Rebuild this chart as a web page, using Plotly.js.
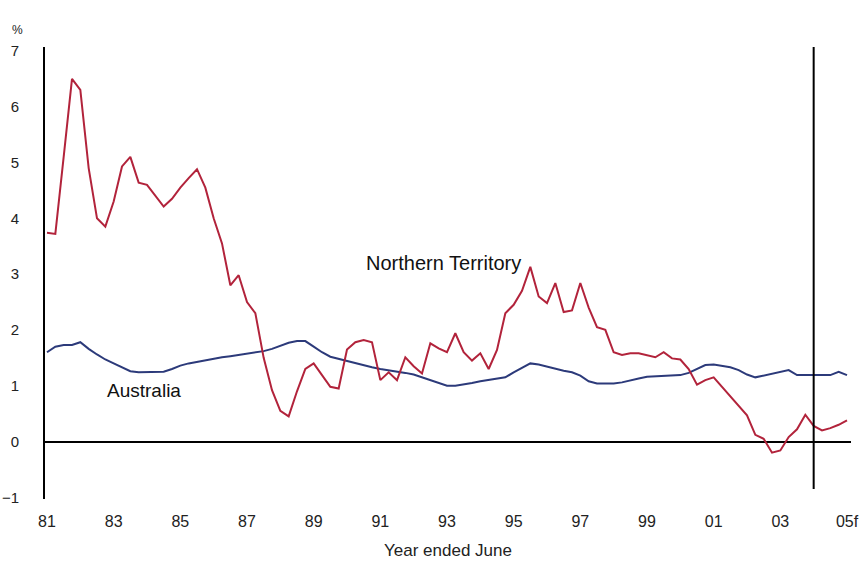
<!DOCTYPE html>
<html>
<head>
<meta charset="utf-8">
<script src="https://cdn.plot.ly/plotly-3.0.1.min.js"></script>
<style>html,body{margin:0;padding:0;background:#fff;}#chart{width:868px;height:563px;}</style>
</head>
<body>
<div id="chart"></div>
<script>
// Quarterly observations, year ended June, starting 1981 (step 0.25 year)
const startYear = 1981;
const stepYear = 0.25;

const northernTerritory = [
  3.74, 3.72, 5.1, 6.5, 6.3, 4.9, 4.0, 3.85, 4.3, 4.93,
  5.1, 4.64, 4.6, 4.4, 4.21, 4.35, 4.55, 4.72, 4.88, 4.55,
  4.0, 3.55, 2.8, 2.98, 2.5, 2.3, 1.5, 0.92, 0.55, 0.45,
  0.9, 1.3, 1.4, 1.19, 0.98, 0.95, 1.65, 1.78, 1.82, 1.78,
  1.1, 1.24, 1.1, 1.51, 1.35, 1.22, 1.76, 1.67, 1.6, 1.94,
  1.6, 1.45, 1.58, 1.3, 1.64, 2.3, 2.45, 2.7, 3.13, 2.6,
  2.48, 2.84, 2.32, 2.35, 2.84, 2.4, 2.05, 2.0, 1.6, 1.55,
  1.58, 1.58, 1.55, 1.51, 1.6, 1.49, 1.47, 1.3, 1.02, 1.1,
  1.15, 0.98, 0.8, 0.65, 0.47, 0.12, 0.05, -0.2, -0.16, 0.08,
  0.22, 0.48, 0.28, 0.2, 0.24, 0.3, 0.38
];

const australia = [
  1.6, 1.7, 1.73, 1.73, 1.78, 1.66, 1.56, 1.47, 1.4, 1.33,
  1.26, 1.24, 1.24, 1.24, 1.25, 1.3, 1.36, 1.4, 1.43, 1.46,
  1.49, 1.51, 1.53, 1.55, 1.57, 1.59, 1.62, 1.66, 1.72, 1.77,
  1.8, 1.8, 1.7, 1.6, 1.52, 1.48, 1.45, 1.4, 1.36, 1.33,
  1.3, 1.28, 1.26, 1.23, 1.2, 1.15, 1.1, 1.05, 1.0, 1.0,
  1.02, 1.05, 1.08, 1.1, 1.12, 1.15, 1.24, 1.32, 1.4, 1.38,
  1.34, 1.3, 1.27, 1.24, 1.18, 1.08, 1.04, 1.04, 1.04, 1.06,
  1.1, 1.13, 1.16, 1.17, 1.18, 1.19, 1.19, 1.23, 1.3, 1.37,
  1.38, 1.36, 1.33, 1.28, 1.2, 1.15, 1.18, 1.21, 1.24, 1.28,
  1.19, 1.19, 1.19, 1.19, 1.19, 1.25, 1.19
];

const tickYears = [1981, 1983, 1985, 1987, 1989, 1991, 1993, 1995, 1997, 1999, 2001, 2003, 2005];
const tickLabels = ['81', '83', '85', '87', '89', '91', '93', '95', '97', '99', '01', '03', '05f'];
const yTicks = [-1, 0, 1, 2, 3, 4, 5, 6, 7];
const forecastDividerYear = 2004;

const xYears = northernTerritory.map((_, i) => startYear + i * stepYear);

const FONT = 'Liberation Sans, Arial, sans-serif';

const traces = [
  {
    x: xYears, y: australia, type: 'scatter', mode: 'lines',
    name: 'Australia', line: {color: '#2c3a7a', width: 2}, hoverinfo: 'skip'
  },
  {
    x: xYears, y: northernTerritory, type: 'scatter', mode: 'lines',
    name: 'Northern Territory', line: {color: '#b2233b', width: 2}, hoverinfo: 'skip'
  }
];

const layout = {
  width: 868, height: 563,
  margin: {l: 45, r: 17, t: 47, b: 64},
  paper_bgcolor: '#fff', plot_bgcolor: '#fff',
  showlegend: false,
  font: {family: FONT, size: 16, color: '#222'},
  xaxis: {
    range: [1980.94, 2005.12],
    tickvals: tickYears, ticktext: tickLabels,
    showgrid: false, zeroline: false, showline: false,
    ticks: 'outside', ticklen: 8, tickcolor: 'rgba(0,0,0,0)',
    tickfont: {family: FONT, size: 16, color: '#222'},
    title: {text: 'Year ended June', font: {family: FONT, size: 17, color: '#222'}, standoff: 14}
  },
  yaxis: {
    range: [-1.03, 7.07],
    tickvals: yTicks,
    showgrid: false,
    zeroline: true, zerolinecolor: '#000', zerolinewidth: 2,
    showline: true, linecolor: '#000', linewidth: 2,
    ticks: 'outside', ticklen: 21, tickcolor: 'rgba(0,0,0,0)',
    tickfont: {family: FONT, size: 15, color: '#222'}
  },
  shapes: [
    {type: 'line', xref: 'x', yref: 'y', x0: forecastDividerYear, x1: forecastDividerYear,
     y0: -0.85, y1: 7.07, line: {color: '#000', width: 2}}
  ],
  annotations: [
    {xref: 'paper', yref: 'paper', x: -0.043, y: 1.038, xanchor: 'left', yanchor: 'middle',
     text: '%', showarrow: false, font: {family: FONT, size: 12, color: '#222'}},
    {xref: 'x', yref: 'y', x: 1992.9, y: 3.2, xanchor: 'center', yanchor: 'middle',
     text: 'Northern Territory', showarrow: false, font: {family: FONT, size: 20, color: '#111'}},
    {xref: 'x', yref: 'y', x: 1983.9, y: 0.92, xanchor: 'center', yanchor: 'middle',
     text: 'Australia', showarrow: false, font: {family: FONT, size: 19, color: '#111'}}
  ]
};

Plotly.newPlot('chart', traces, layout, {staticPlot: true, displayModeBar: false});
</script>
</body>
</html>
